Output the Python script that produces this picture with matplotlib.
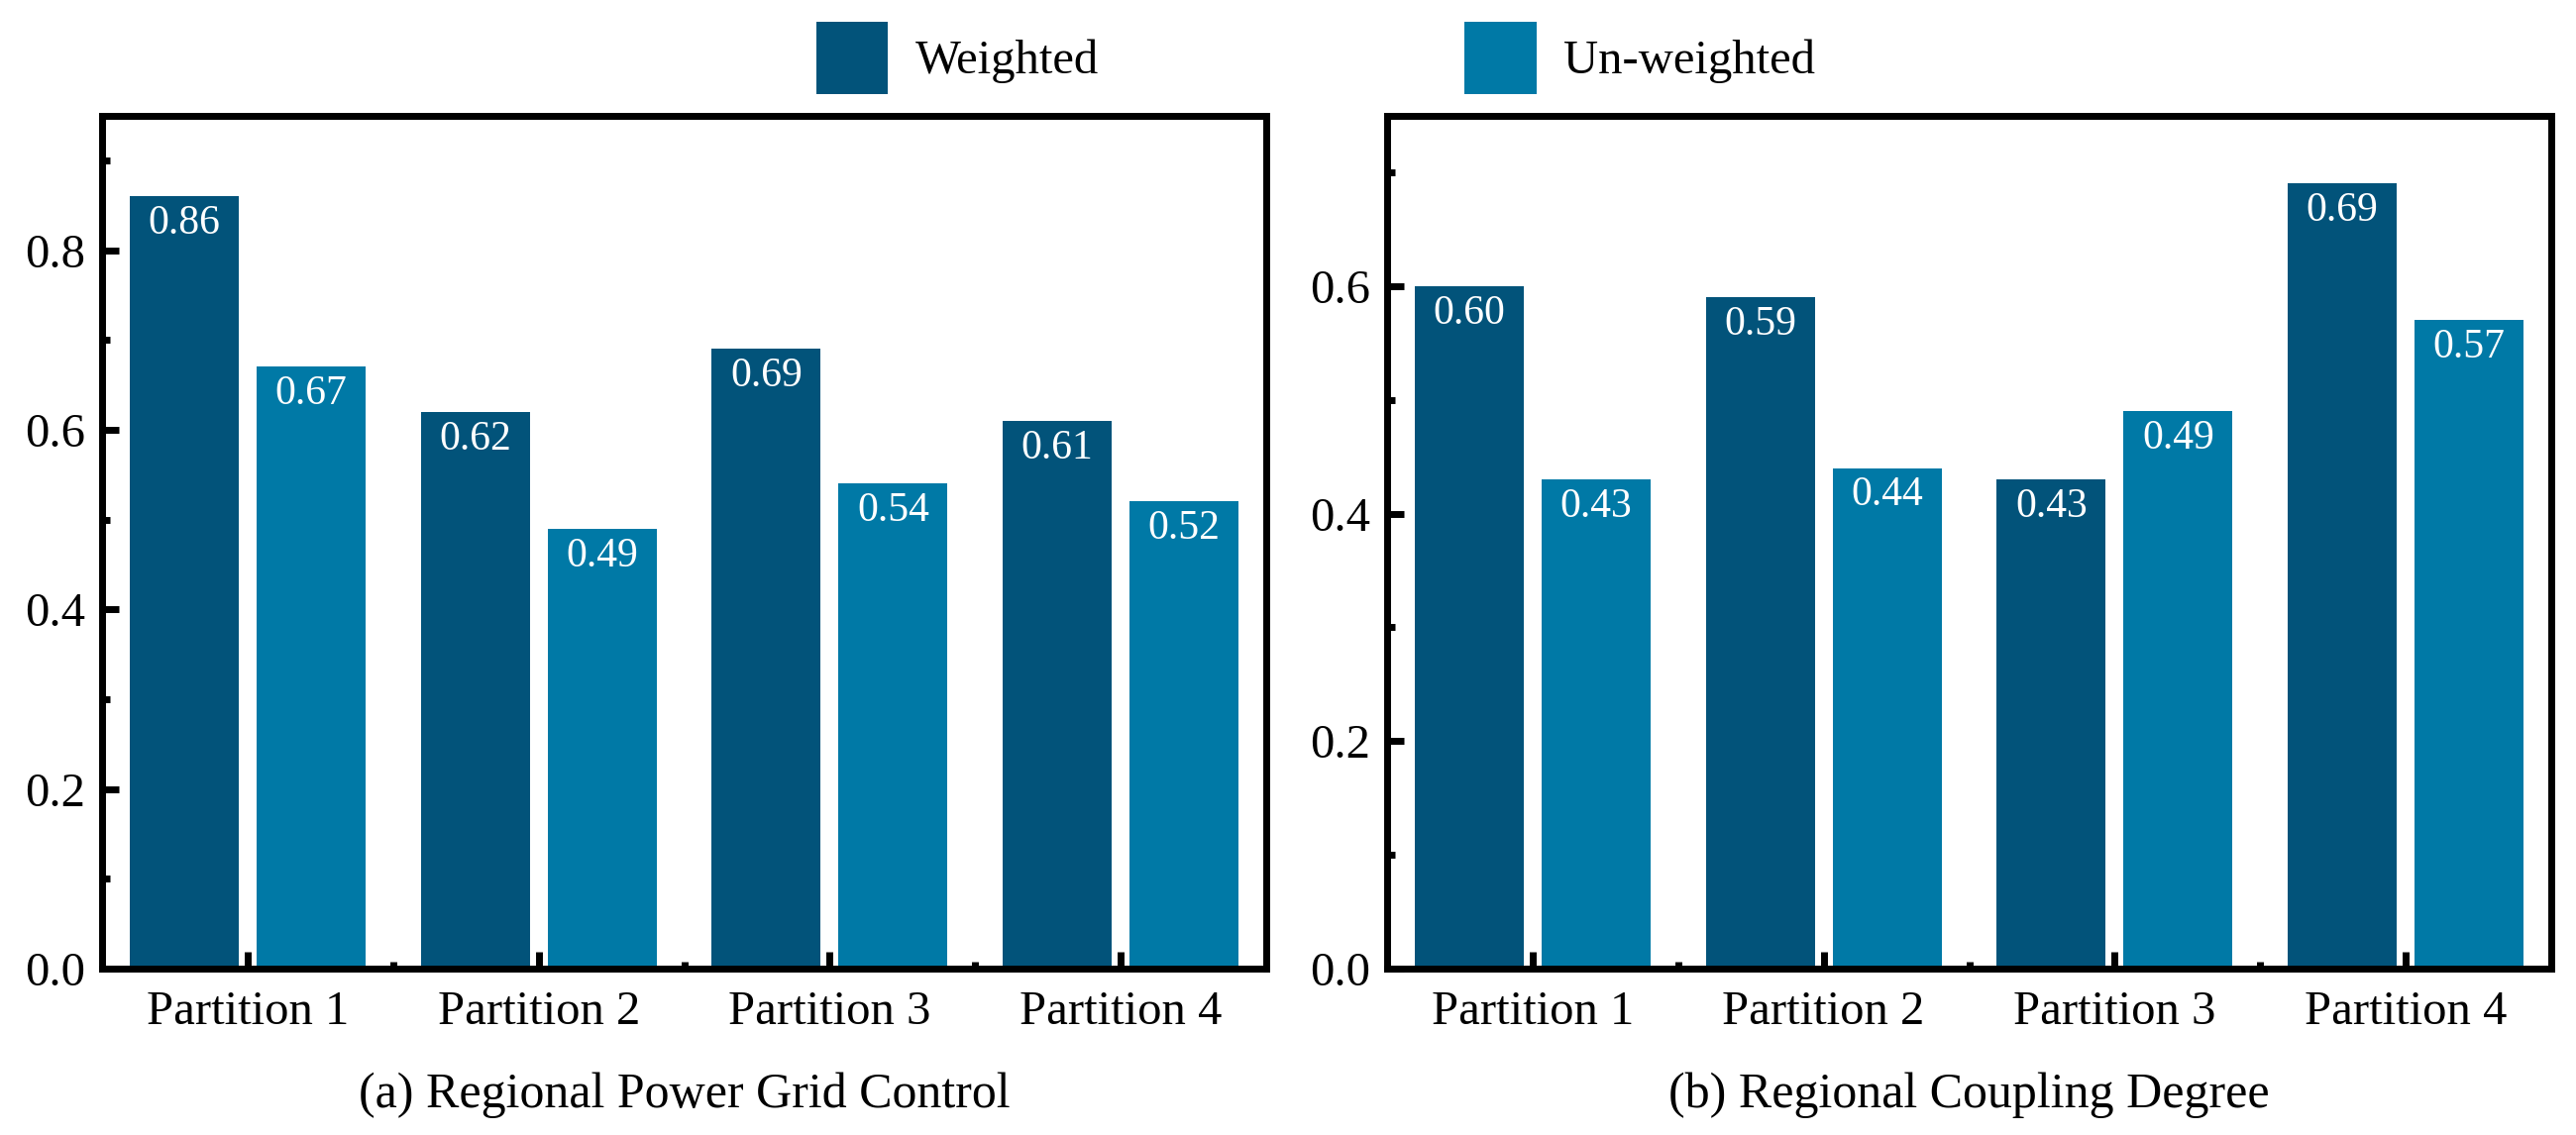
import numpy as np
import matplotlib
matplotlib.use("Agg")
import matplotlib.pyplot as plt
from matplotlib.ticker import MultipleLocator, FixedLocator

plt.rcParams["font.family"] = ["Liberation Serif", "DejaVu Serif"]

categories = ["Partition 1", "Partition 2", "Partition 3", "Partition 4"]
series_names = ["Weighted", "Un-weighted"]
grid_weighted = [0.86, 0.62, 0.69, 0.61]
grid_unweighted = [0.67, 0.49, 0.54, 0.52]
coupling_weighted = [0.60, 0.59, 0.43, 0.69]
coupling_unweighted = [0.43, 0.44, 0.49, 0.57]
subtitles = ["(a) Regional Power Grid Control", "(b) Regional Coupling Degree"]

DARK = "#02537a"
LIGHT = "#0079a6"
W = 0.375
OFF = 0.218
FS = 17.5

fig = plt.figure(figsize=(13, 5.73), dpi=200)
ax1 = fig.add_axes([103 / 2600, 0.1466, 1175 / 2600, 0.7517])
ax2 = fig.add_axes([1400 / 2600, 0.1466, 1175 / 2600, 0.7517])

x = np.arange(len(categories))
panels = [(ax1, grid_weighted, grid_unweighted, 0.95),
          (ax2, coupling_weighted, coupling_unweighted, 0.75)]

for (ax, w, u, ytop), sub in zip(panels, subtitles):
    b1 = ax.bar(x - OFF, w, W, color=DARK, label=series_names[0])
    b2 = ax.bar(x + OFF, u, W, color=LIGHT, label=series_names[1])
    for bars, vals in [(b1, w), (b2, u)]:
        for rect, v in zip(bars, vals):
            ax.annotate(f"{v:.2f}", (rect.get_x() + rect.get_width() / 2, v),
                        xytext=(0, -3), textcoords="offset points",
                        ha="center", va="top", color="white", fontsize=15)
    ax.set_xlim(-0.5, 3.5)
    ax.set_ylim(0, ytop)
    ax.set_xticks(x)
    ax.set_xticklabels(categories)
    ax.xaxis.set_minor_locator(FixedLocator([0.5, 1.5, 2.5]))
    ax.yaxis.set_major_locator(MultipleLocator(0.2))
    ax.yaxis.set_minor_locator(MultipleLocator(0.1))
    ax.tick_params(which="both", direction="in", width=2.5, labelsize=FS,
                   top=False, right=False)
    ax.tick_params(which="major", length=6)
    ax.tick_params(axis="y", which="minor", length=3)
    ax.tick_params(axis="x", which="minor", length=2.5)
    ax.tick_params(axis="x", which="major", pad=8)
    ax.tick_params(axis="y", which="major", pad=6)
    for s in ax.spines.values():
        s.set_linewidth(2.5)
    pos = ax.get_position()
    fig.text(pos.x0 + pos.width / 2, 1 - 1118 / 1146, sub, ha="center",
             va="baseline", fontsize=18)

handles, labels = ax1.get_legend_handles_labels()
fig.legend(handles, labels, loc="center", bbox_to_anchor=(1328 / 2600, 0.949),
           ncol=2, frameon=False, fontsize=FS, handlelength=1.5,
           handleheight=1.93, handletextpad=0.56, columnspacing=7.6)

fig.savefig("out.png", dpi=200)
